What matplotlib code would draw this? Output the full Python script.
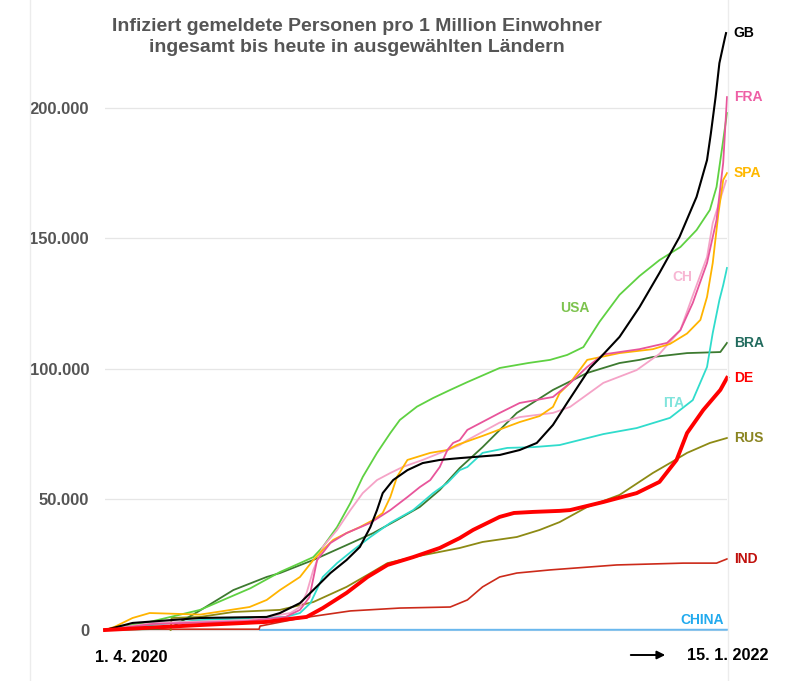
import numpy as np
import matplotlib.pyplot as plt
from matplotlib.lines import Line2D
from matplotlib.patches import FancyArrowPatch

plt.rcParams['font.family'] = ['Liberation Sans', 'DejaVu Sans']
plt.rcParams['font.weight'] = 'bold'

# days since 1.4.2020, values in thousand cases per 1 million inhabitants
usa_d = [0, 47, 100, 153, 184, 205, 219, 229, 244, 258, 271, 286, 300, 310, 328, 345, 363, 381, 415, 445, 468, 486, 503, 520, 541, 562, 583, 605, 622, 636, 643, 649, 654]
usa_v = [0, 3.1, 7.7, 16.0, 22.2, 25.6, 27.9, 31.8, 39.4, 48.6, 58.6, 67.8, 75.4, 80.4, 85.5, 88.8, 91.9, 94.9, 100.3, 102.2, 103.4, 105.3, 108.3, 118.0, 128.3, 135.5, 141.6, 146.6, 153.1, 160.8, 169.6, 184.9, 197.9]

gb_d = [0, 29, 100, 170, 184, 205, 219, 237, 254, 268, 279, 286, 292, 303, 318, 334, 352, 373, 415, 436, 454, 471, 486, 510, 520, 541, 562, 583, 604, 622, 633, 637, 642, 646, 652, 653]
gb_v = [0, 2.7, 4.6, 5.0, 6.5, 10.3, 15.3, 21.8, 26.8, 31.8, 39.4, 45.9, 52.4, 57.4, 61.2, 63.9, 65.1, 65.8, 67.0, 68.9, 71.6, 78.5, 87.0, 100.3, 104.0, 112.2, 123.6, 136.7, 150.4, 165.8, 179.9, 190.0, 204.0, 217.0, 227.0, 228.5]

fra_d = [0, 50, 150, 190, 205, 215, 223, 237, 254, 279, 300, 318, 331, 342, 352, 360, 366, 373, 381, 415, 436, 471, 489, 507, 524, 562, 591, 605, 618, 633, 643, 650, 654]
fra_v = [0, 2.3, 3.4, 5.0, 7.7, 12.6, 26.8, 33.3, 37.1, 41.0, 45.9, 50.9, 54.7, 57.4, 62.4, 68.9, 71.6, 72.7, 76.6, 83.1, 86.9, 89.2, 94.5, 100.7, 105.5, 107.5, 109.9, 114.8, 125.2, 140.5, 157.0, 178.8, 204.0]

ch_d = [0, 50, 150, 195, 205, 212, 219, 229, 244, 258, 271, 286, 300, 313, 334, 360, 373, 381, 415, 436, 471, 489, 524, 559, 583, 605, 618, 633, 639, 647, 653]
ch_v = [0, 2.7, 3.8, 6.5, 8.8, 14.2, 23.0, 31.8, 38.3, 45.9, 52.4, 57.4, 60.1, 62.4, 65.1, 68.9, 70.8, 72.7, 79.4, 81.5, 83.1, 85.4, 94.6, 99.5, 105.7, 114.8, 128.0, 142.8, 155.8, 165.0, 172.0]

spa_d = [0, 10, 29, 47, 100, 152, 170, 184, 205, 219, 229, 240, 254, 268, 282, 292, 300, 307, 318, 342, 360, 370, 397, 436, 457, 471, 478, 489, 507, 541, 576, 594, 612, 626, 633, 639, 645, 650, 654]
spa_v = [0, 1.2, 4.6, 6.5, 5.9, 8.8, 11.5, 15.3, 20.3, 26.8, 30.6, 34.5, 37.1, 39.4, 42.1, 44.8, 50.9, 58.6, 65.1, 67.8, 68.9, 70.8, 74.3, 79.6, 81.9, 85.4, 90.7, 94.6, 103.4, 106.0, 107.5, 109.5, 113.5, 118.7, 127.5, 140.5, 159.6, 172.3, 174.9]

ita_d = [0, 100, 190, 205, 216, 229, 244, 261, 279, 300, 324, 345, 360, 373, 381, 397, 423, 450, 478, 524, 559, 594, 618, 633, 639, 646, 650, 654]
ita_v = [0, 3.8, 5.0, 6.5, 10.3, 20.3, 25.6, 30.6, 35.6, 41.0, 45.9, 52.4, 56.3, 61.2, 62.4, 67.8, 69.7, 70.0, 70.8, 75.0, 77.3, 81.2, 88.0, 100.7, 113.7, 126.3, 132.0, 138.6]

bra_d = [0, 55, 72, 100, 135, 170, 184, 219, 254, 282, 307, 331, 352, 373, 397, 433, 471, 507, 541, 562, 576, 612, 647, 654]
bra_v = [0, 0.4, 1.5, 7.5, 15.3, 20.3, 21.8, 26.8, 32.5, 37.1, 42.1, 47.1, 53.6, 62.0, 70.0, 83.1, 91.9, 98.4, 102.2, 103.4, 104.5, 106.0, 106.4, 109.9]

de_d = [0, 100, 170, 184, 212, 229, 254, 276, 297, 324, 352, 373, 387, 415, 430, 450, 478, 489, 524, 559, 583, 601, 612, 629, 647, 654]
de_v = [0, 1.9, 3.1, 3.8, 5.0, 8.4, 14.2, 20.3, 24.9, 27.9, 31.4, 35.2, 38.3, 43.3, 44.8, 45.2, 45.6, 45.9, 49.0, 52.4, 56.7, 65.1, 75.4, 84.2, 91.9, 96.5]

rus_d = [69, 70, 100, 135, 184, 219, 254, 276, 297, 324, 352, 373, 397, 433, 457, 478, 507, 541, 576, 594, 612, 636, 654]
rus_v = [0, 4.6, 5.0, 6.9, 7.7, 10.7, 16.5, 21.1, 25.6, 27.9, 29.9, 31.4, 33.7, 35.6, 38.3, 41.3, 47.1, 51.7, 60.1, 63.9, 67.8, 71.6, 73.5]

ind_d = [0, 162, 163, 205, 258, 310, 363, 381, 397, 415, 433, 468, 538, 608, 643, 654]
ind_v = [0.3, 0.3, 1.5, 4.5, 7.3, 8.4, 8.8, 11.5, 16.5, 20.3, 21.8, 23.0, 24.9, 25.6, 25.6, 27.2]

china_d = [163, 654]
china_v = [0.05, 0.1]

series = [
    ('CHINA', china_d, china_v, '#6ab8ee', 1.4),
    ('IND', ind_d, ind_v, '#cc2a1a', 1.2),
    ('RUS', rus_d, rus_v, '#8d8a14', 1.3),
    ('BRA', bra_d, bra_v, '#3d7a30', 1.3),
    ('ITA', ita_d, ita_v, '#30dccc', 1.3),
    ('USA', usa_d, usa_v, '#5fd142', 1.3),
    ('CH', ch_d, ch_v, '#f5a3c7', 1.3),
    ('SPA', spa_d, spa_v, '#ffb400', 1.3),
    ('FRA', fra_d, fra_v, '#e8559b', 1.3),
    ('GB', gb_d, gb_v, '#000000', 1.5),
    ('DE', de_d, de_v, '#ff0000', 2.8),
]

# labels next to the line end
end_labels = {'GB': '#000000', 'FRA': '#ee5fa5', 'SPA': '#ffb800', 'BRA': '#226b5e',
              'DE': '#ff0000', 'RUS': '#8a8420', 'IND': '#c0100c'}
# labels placed freely (day, value)
free_labels = {'USA': (494, 123.3, '#7dc34e'), 'CH': (607, 135.1, '#f7b6d3'),
               'ITA': (598, 86.9, '#80e4dc'), 'CHINA': (628, 3.8, '#22aaee')}

yticks = [0, 50, 100, 150, 200]
ytick_labels = ['0', '50.000', '100.000', '150.000', '200.000']

fig = plt.figure(figsize=(8, 6.81), dpi=100)
ax = fig.add_axes([105/800, 49/681, 622/800, 616/681])
ax.set_xlim(0, 654)
ax.set_ylim(-0.766, 235.04)

for name, d, v, col, lw in series:
    ax.plot(d, v, color=col, lw=lw, solid_joinstyle='round', clip_on=False)

for name, col in end_labels.items():
    d, v = [(s[1], s[2]) for s in series if s[0] == name][0]
    ax.annotate(name, xy=(d[-1], v[-1]), xytext=(5, 0), textcoords='offset points',
                ha='left', va='center', color=col, fontsize=10, fontweight='bold')

for name, (d, v, col) in free_labels.items():
    ax.text(d, v, name, ha='center', va='center', color=col, fontsize=10, fontweight='bold')

ax.set_yticks(yticks)
ax.set_yticklabels(ytick_labels, color='#555555', fontsize=12, fontweight='bold')
ax.tick_params(axis='y', length=0, pad=11.5)
ax.set_xticks([])
ax.grid(axis='y', color='#e6e6e6', lw=0.9)
ax.set_axisbelow(True)
for s in ax.spines.values():
    s.set_visible(False)

# faint vertical border lines
fig.add_artist(Line2D([30/800, 30/800], [0, 1], color='#ececec', lw=1))
fig.add_artist(Line2D([728/800, 728/800], [0, 1], color='#ececec', lw=1))

fig.text(357/800, 1-37/681, 'Infiziert gemeldete Personen pro 1 Million Einwohner\ningesamt bis heute in ausgewählten Ländern',
         ha='center', va='center', color='#555555', fontsize=14, fontweight='bold', linespacing=1.25)

fig.text(131/800, 1-658/681, '1. 4. 2020', ha='center', va='center', fontsize=11.7, fontweight='bold')
fig.text(728/800, 1-655/681, '15. 1. 2022', ha='center', va='center', fontsize=11.7, fontweight='bold')
fig.add_artist(FancyArrowPatch((628/800, 1-655/681), (668/800, 1-655/681),
               transform=fig.transFigure, arrowstyle='-|>', mutation_scale=12, color='black', lw=1.4))

fig.savefig('out.png', dpi=100, facecolor='white')
